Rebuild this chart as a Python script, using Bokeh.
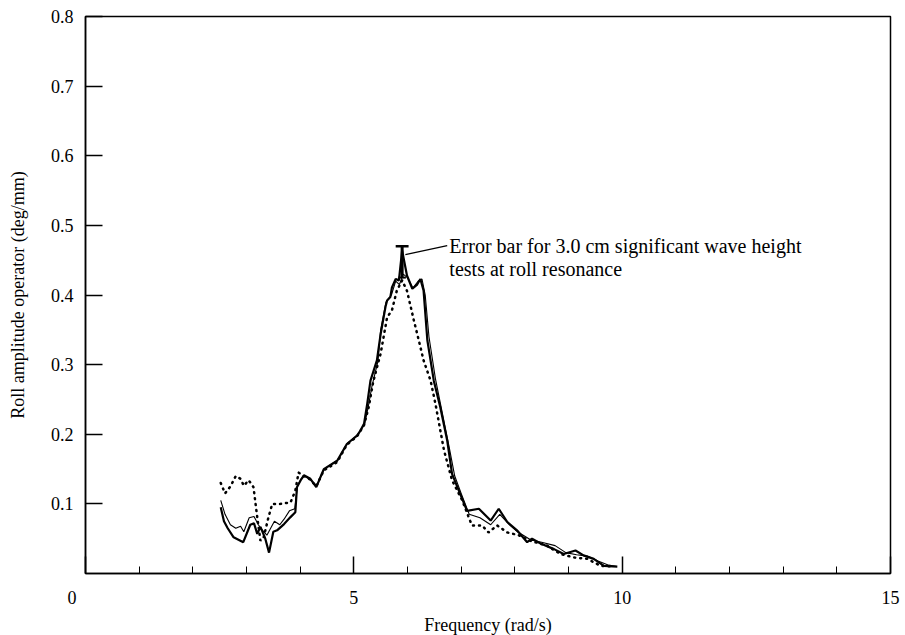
from bokeh.plotting import figure
from bokeh.models import FixedTicker, Label
from bokeh.embed import file_html
from bokeh.resources import INLINE

# --- data -------------------------------------------------------------------
freq_a = [2.52, 2.58, 2.65, 2.76, 2.94, 3.07, 3.14, 3.20, 3.26, 3.35, 3.42, 3.50, 3.57, 3.70,
          3.82, 3.91, 3.94, 4.01, 4.07, 4.19, 4.30, 4.44, 4.69, 4.87, 5.06, 5.12, 5.19, 5.25,
          5.31, 5.43, 5.50, 5.59, 5.62, 5.68, 5.71, 5.78, 5.84, 5.90, 5.99, 6.09, 6.18, 6.24,
          6.30, 6.37, 6.49, 6.61, 6.74, 6.83, 6.93, 7.11, 7.33, 7.55, 7.70, 7.86, 8.04, 8.23,
          8.32, 8.48, 8.73, 8.91, 9.13, 9.28, 9.47, 9.66, 9.91]
rao_a = [0.095, 0.075, 0.065, 0.052, 0.045, 0.070, 0.072, 0.057, 0.067, 0.050, 0.030, 0.060,
         0.062, 0.071, 0.081, 0.088, 0.124, 0.134, 0.141, 0.136, 0.124, 0.150, 0.162, 0.186,
         0.198, 0.205, 0.215, 0.244, 0.277, 0.306, 0.344, 0.383, 0.392, 0.397, 0.411, 0.423,
         0.421, 0.464, 0.428, 0.409, 0.415, 0.423, 0.406, 0.335, 0.277, 0.239, 0.191, 0.143,
         0.124, 0.090, 0.093, 0.076, 0.093, 0.074, 0.062, 0.045, 0.050, 0.043, 0.035, 0.028,
         0.033, 0.026, 0.021, 0.011, 0.010]

freq_b = [2.52, 2.60, 2.70, 2.80, 2.89, 2.95, 3.05, 3.14, 3.22, 3.30, 3.38, 3.45, 3.52, 3.62,
          3.70, 3.80, 3.90, 3.95, 4.02, 4.08, 4.20, 4.31, 4.45, 4.70, 4.88, 5.07, 5.20, 5.27,
          5.34, 5.45, 5.50, 5.60, 5.70, 5.78, 5.85, 5.92, 6.00, 6.10, 6.20, 6.27, 6.33, 6.40,
          6.52, 6.65, 6.78, 6.88, 7.00, 7.15, 7.35, 7.55, 7.72, 7.90, 8.05, 8.30, 8.50, 8.75,
          8.95, 9.15, 9.35, 9.55, 9.75, 9.90]
rao_b = [0.105, 0.085, 0.070, 0.065, 0.068, 0.060, 0.080, 0.082, 0.070, 0.062, 0.055, 0.065,
         0.075, 0.070, 0.078, 0.090, 0.093, 0.126, 0.136, 0.140, 0.134, 0.126, 0.150, 0.163,
         0.187, 0.199, 0.214, 0.240, 0.270, 0.305, 0.350, 0.390, 0.400, 0.420, 0.415, 0.430,
         0.425, 0.410, 0.420, 0.423, 0.400, 0.340, 0.280, 0.230, 0.180, 0.140, 0.115, 0.085,
         0.080, 0.070, 0.085, 0.070, 0.060, 0.048, 0.045, 0.040, 0.030, 0.027, 0.025, 0.018,
         0.012, 0.010]

freq_c = [2.52, 2.60, 2.70, 2.80, 2.89, 2.95, 3.04, 3.13, 3.20, 3.26, 3.32, 3.41, 3.48, 3.63,
          3.82, 3.91, 3.97, 4.07, 4.19, 4.30, 4.44, 4.69, 4.87, 5.06, 5.19, 5.28, 5.36, 5.50,
          5.62, 5.71, 5.80, 5.90, 5.99, 6.06, 6.12, 6.21, 6.30, 6.43, 6.52, 6.68, 6.83, 7.02,
          7.20, 7.39, 7.51, 7.67, 7.86, 8.07, 8.29, 8.60, 8.85, 9.10, 9.35, 9.60, 9.84]
rao_c = [0.130, 0.115, 0.125, 0.140, 0.136, 0.126, 0.134, 0.124, 0.081, 0.047, 0.052, 0.081,
         0.100, 0.100, 0.102, 0.119, 0.145, 0.140, 0.135, 0.125, 0.148, 0.160, 0.185, 0.197,
         0.213, 0.240, 0.275, 0.316, 0.368, 0.378, 0.406, 0.421, 0.406, 0.383, 0.363, 0.335,
         0.306, 0.277, 0.244, 0.177, 0.134, 0.105, 0.069, 0.069, 0.059, 0.069, 0.059, 0.055,
         0.047, 0.040, 0.028, 0.023, 0.021, 0.011, 0.010]

err_freq = 5.90
err_low = 0.425
err_high = 0.470

x_ticks = [0, 5, 10, 15]
x_tick_labels = {0: "0\u2003\u2002", 5: "5", 10: "10", 15: "15"}
x_minor = [1, 2, 3, 4, 6, 7, 8, 9, 11, 12, 13, 14]
y_ticks = [0.1, 0.2, 0.3, 0.4, 0.5, 0.6, 0.7, 0.8]

FONT = "Liberation Serif"

p = figure(frame_width=805, frame_height=557, x_range=(0, 15), y_range=(0, 0.8),
           min_border_left=85, min_border_right=15, min_border_top=16, min_border_bottom=62,
           output_backend="svg", toolbar_location=None)
p.background_fill_color = "white"
p.border_fill_color = "white"
p.outline_line_color = "black"
p.outline_line_width = 1.5
p.grid.visible = False

# axes
xa = p.xaxis[0]
xa.ticker = FixedTicker(ticks=x_ticks, minor_ticks=x_minor)
xa.major_label_overrides = x_tick_labels
xa.major_tick_in = 17
xa.major_tick_out = 0
xa.minor_tick_in = 7
xa.minor_tick_out = 0
xa.axis_line_width = 1.5
xa.axis_line_color = "black"
xa.major_tick_line_width = 1.5
xa.minor_tick_line_width = 1
xa.major_tick_line_color = "black"
xa.minor_tick_line_color = "black"
xa.major_label_standoff = 14
xa.major_label_text_font = FONT
xa.major_label_text_font_size = "18px"
xa.major_label_text_color = "black"
xa.axis_label = "Frequency (rad/s)"
xa.axis_label_text_font = FONT
xa.axis_label_text_font_style = "normal"
xa.axis_label_text_font_size = "18px"
xa.axis_label_text_color = "black"
xa.axis_label_standoff = 4

ya = p.yaxis[0]
ya.ticker = FixedTicker(ticks=y_ticks, minor_ticks=[])
ya.major_tick_in = 17
ya.major_tick_out = 0
ya.axis_line_width = 1.5
ya.axis_line_color = "black"
ya.major_tick_line_width = 1.5
ya.major_tick_line_color = "black"
ya.major_label_standoff = 12
ya.major_label_text_font = FONT
ya.major_label_text_font_size = "18px"
ya.major_label_text_color = "black"
ya.axis_label = "Roll amplitude operator (deg/mm)"
ya.axis_label_text_font = FONT
ya.axis_label_text_font_style = "normal"
ya.axis_label_text_font_size = "18px"
ya.axis_label_text_color = "black"
ya.axis_label_standoff = 20

# curves
p.line(freq_c, rao_c, line_color="black", line_width=2.5, line_dash="1 5", line_cap="round")
p.line(freq_b, rao_b, line_color="black", line_width=1.1)
p.line(freq_a, rao_a, line_color="black", line_width=2.2)

# error bar
p.segment(x0=[err_freq], y0=[err_low], x1=[err_freq], y1=[err_high], line_color="black", line_width=3)
p.segment(x0=[err_freq - 0.12], y0=[err_high], x1=[err_freq + 0.12], y1=[err_high],
          line_color="black", line_width=2.5)
p.segment(x0=[err_freq - 0.07], y0=[err_low], x1=[err_freq + 0.07], y1=[err_low],
          line_color="black", line_width=2)

# annotation leader + text
p.segment(x0=[err_freq + 0.06], y0=[0.458], x1=[6.74], y1=[0.471], line_color="black", line_width=1.2)
p.add_layout(Label(x=6.78, y=0.471, text="Error bar for 3.0 cm significant wave height",
                   text_align="left", text_baseline="middle", text_font=FONT,
                   text_font_size="20px", text_color="black"))
p.add_layout(Label(x=6.78, y=0.437, text="tests at roll resonance",
                   text_align="left", text_baseline="middle", text_font=FONT,
                   text_font_size="20px", text_color="black"))

open("out.html", "w").write(file_html(p, INLINE))
